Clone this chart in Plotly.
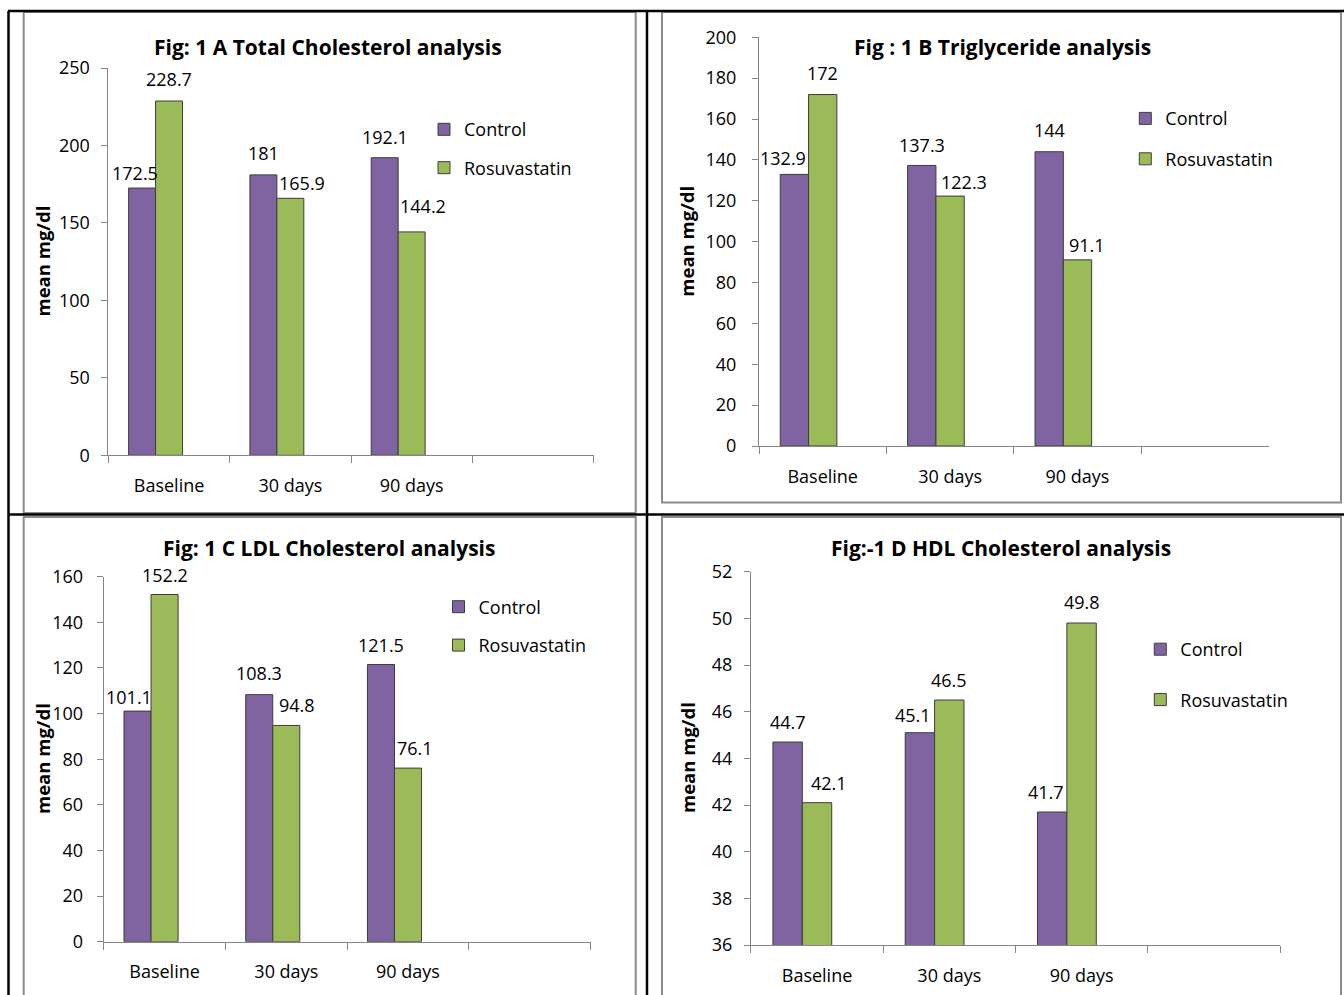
import plotly.graph_objects as go

W, H = 1344, 995

# ---- data -------------------------------------------------------------
categories = ["Baseline", "30 days", "90 days"]
axis_slots = categories + [" "]          # the category axis keeps an empty fourth slot
series_names = ["Control", "Rosuvastatin"]

total_chol_control = [172.5, 181, 192.1]
total_chol_rosuva = [228.7, 165.9, 144.2]

triglyceride_control = [132.9, 137.3, 144]
triglyceride_rosuva = [172, 122.3, 91.1]

ldl_control = [101.1, 108.3, 121.5]
ldl_rosuva = [152.2, 94.8, 76.1]

hdl_control = [44.7, 45.1, 41.7]
hdl_rosuva = [42.1, 46.5, 49.8]

panel_titles = [
    "Fig: 1 A Total Cholesterol analysis",
    "Fig : 1 B Triglyceride analysis",
    "Fig: 1 C LDL Cholesterol analysis",
    "Fig:-1 D HDL Cholesterol analysis",
]
y_axis_label = "mean mg/dl"

y_ranges = [[0, 250], [0, 200], [0, 160], [36, 52]]
y_steps = [50, 20, 20, 2]

# ---- styling / layout (pixel positions) ---------------------------------
FONT = "Open Sans"
PURPLE = "#8064A2"
GREEN = "#9BBB59"
AXIS_GRAY = "#868686"
BORDER_GRAY = "#8c8c8c"

BAR_W = 0.2222
OFFSETS = [-0.3333, -0.1111]

layout_px = [
    dict(box=(108.4, 68.0, 593.6, 455.3), title=(328, 46.7), ytitle=(42, 261.5),
         legend=(446, 129.6), legend_gap=12, ystand=8),
    dict(box=(759.0, 37.3, 1268.6, 446.0), title=(1002, 46.7), ytitle=(687, 241.7),
         legend=(1147.3, 118.7), legend_gap=14, ystand=12),
    dict(box=(103.7, 576.7, 590.6, 941.7), title=(329, 548.0), ytitle=(42, 759),
         legend=(460.5, 607.0), legend_gap=12, ystand=10),
    dict(box=(750.9, 571.7, 1280.0, 945.0), title=(1000.5, 548.3), ytitle=(687, 758),
         legend=(1162.3, 649.5), legend_gap=24, ystand=8),
]

# value-label nudges (dx, dy) in pixels: [control per category], [rosuvastatin per category]
label_nudges = [
    ([(-7, 14.6), (0, 21.4), (0, 21.0)], [(0, 22.0), (11.3, 14.8), (11.0, 26.2)]),
    ([(-11.4, 16.0), (0, 20.9), (0, 21.7)], [(0, 21.2), (13.9, 14.4), (9.3, 14.5)]),
    ([(-9.0, 14.4), (0, 21.3), (0, 19.5)], [(0, 19.8), (11.2, 20.4), (7.0, 20.6)]),
    ([(0, 20.3), (-7.3, 17.7), (-6.3, 20.3)], [(12.0, 19.4), (0, 20.0), (0, 21.3)]),
]

series_data = [
    (total_chol_control, total_chol_rosuva),
    (triglyceride_control, triglyceride_rosuva),
    (ldl_control, ldl_rosuva),
    (hdl_control, hdl_rosuva),
]


def px_x(x):
    return x / W


def px_y(y):
    return 1 - y / H


def fmt(v):
    return f"{v:g}"


fig = go.Figure()
annotations = []
legend_layouts = {}

for p, ((ctrl, rosu), cfg) in enumerate(zip(series_data, layout_px)):
    n = p + 1
    xa = "x" if n == 1 else f"x{n}"
    ya = "y" if n == 1 else f"y{n}"
    leg = "legend" if n == 1 else f"legend{n}"

    for s, (name, vals, color) in enumerate(zip(series_names, (ctrl, rosu), (PURPLE, GREEN))):
        fig.add_trace(go.Bar(
            x=categories, y=vals, name=name,
            xaxis=xa, yaxis=ya, legend=leg, legendgroup=f"{leg}-{name}",
            width=BAR_W, offset=OFFSETS[s],
            marker=dict(color=color, line=dict(color="#3c3c3c", width=1)),
            hoverinfo="x+y+name",
        ))
        # value labels above each bar
        for i, v in enumerate(vals):
            dx, dy = label_nudges[p][s][i]
            annotations.append(dict(
                x=i + OFFSETS[s] + BAR_W / 2, y=v, xref=xa, yref=ya,
                text=fmt(v), showarrow=False, xanchor="center", yanchor="middle",
                xshift=dx, yshift=dy, font=dict(family=FONT, size=18, color="#000"),
            ))

    x0, y0, x1, y1 = cfg["box"]
    fig.layout[f"xaxis{'' if n == 1 else n}"] = dict(
        domain=[px_x(x0), px_x(x1)], anchor=ya, type="category",
        categoryorder="array", categoryarray=axis_slots, range=[-0.5, 3.5],
        tickson="boundaries", ticks="outside", ticklen=7, tickwidth=1,
        tickcolor=AXIS_GRAY, showline=True, linecolor=AXIS_GRAY, linewidth=1,
        showgrid=False, zeroline=False, fixedrange=True, automargin=False,
        tickfont=dict(family=FONT, size=18, color="#000"), ticklabelstandoff=14,
    )
    fig.layout[f"yaxis{'' if n == 1 else n}"] = dict(
        domain=[px_y(y1), px_y(y0)], anchor=xa, range=y_ranges[p],
        tick0=y_ranges[p][0], dtick=y_steps[p], ticks="outside", ticklen=6,
        tickwidth=1, tickcolor=AXIS_GRAY, showline=True, linecolor=AXIS_GRAY,
        linewidth=1, showgrid=False, zeroline=False, fixedrange=True, automargin=False,
        tickfont=dict(family=FONT, size=18, color="#000"), ticklabelstandoff=cfg["ystand"],
    )

    # panel title and y-axis label
    tx, ty = cfg["title"]
    annotations.append(dict(
        x=px_x(tx), y=px_y(ty), xref="paper", yref="paper", showarrow=False,
        text=f"<b>{panel_titles[p]}</b>", xanchor="center", yanchor="middle",
        font=dict(family=FONT, size=21, color="#000"),
    ))
    yx, yy = cfg["ytitle"]
    annotations.append(dict(
        x=px_x(yx), y=px_y(yy), xref="paper", yref="paper", showarrow=False,
        text=f"<b>{y_axis_label}</b>", textangle=-90, xanchor="center",
        yanchor="middle", font=dict(family=FONT, size=18.5, color="#000"),
    ))

    lx, ly = cfg["legend"]
    legend_layouts[leg] = dict(
        x=px_x(lx - 22), y=px_y(ly - 18.5), xanchor="left", yanchor="top",
        bgcolor="rgba(0,0,0,0)", borderwidth=0, traceorder="grouped",
        tracegroupgap=cfg["legend_gap"], itemclick=False, itemdoubleclick=False,
        font=dict(family=FONT, size=18, color="#000"),
    )

# chart frames (gray) and table rules (black)
shapes = []
frames = [(23.7, 12, 635.7, 513), (662, 12, 1341, 502.5),
          (23.7, 517, 635.7, 1000), (662, 517, 1341, 1000)]
for fx0, fy0, fx1, fy1 in frames:
    shapes.append(dict(type="rect", xref="paper", yref="paper",
                       x0=px_x(fx0), x1=px_x(fx1), y0=px_y(fy1), y1=px_y(fy0),
                       line=dict(color=BORDER_GRAY, width=2), layer="below"))
rules = [(8, 11, 1344, 11), (8.5, 11, 8.5, 995), (647, 11, 647, 995), (8, 514.5, 1344, 514.5)]
for rx0, ry0, rx1, ry1 in rules:
    shapes.append(dict(type="line", xref="paper", yref="paper",
                       x0=px_x(rx0), x1=px_x(rx1), y0=px_y(ry0), y1=px_y(ry1),
                       line=dict(color="#000", width=2.5)))

fig.update_layout(
    width=W, height=H, autosize=False,
    margin=dict(l=0, r=0, t=0, b=0, pad=0, autoexpand=False),
    paper_bgcolor="white", plot_bgcolor="white",
    barmode="overlay", showlegend=True,
    font=dict(family=FONT, size=18, color="#000"),
    annotations=annotations, shapes=shapes,
    **legend_layouts,
)

fig.write_html("out.html", config={"displayModeBar": False})
